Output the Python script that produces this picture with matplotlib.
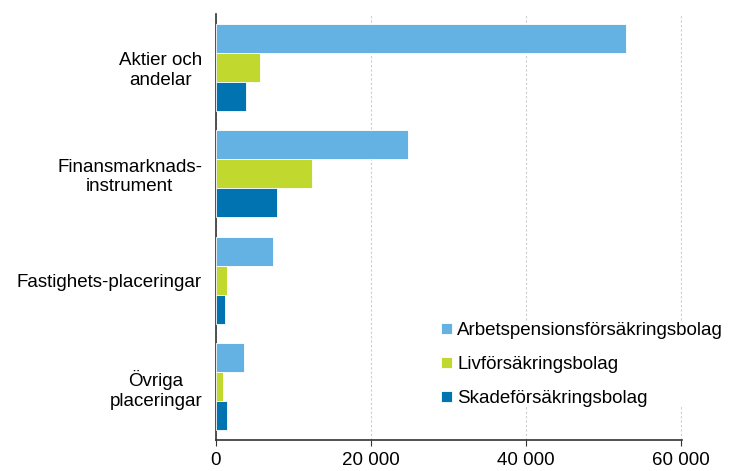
import numpy as np
import matplotlib.pyplot as plt
from matplotlib.ticker import FuncFormatter

plt.rcParams['font.family'] = ['Liberation Sans', 'DejaVu Sans']

categories = ['Aktier och\nandelar', 'Finansmarknads-\ninstrument',
              'Fastighets-placeringar', 'Övriga\nplaceringar']
series = ['Arbetspensionsförsäkringsbolag', 'Livförsäkringsbolag',
          'Skadeförsäkringsbolag']
arbets = [52900, 24800, 7400, 3600]
liv = [5700, 12400, 1400, 900]
skade = [3900, 7900, 1200, 1400]
colors = ['#64b1e4', '#c1d82f', '#0073b0']

fig = plt.figure(figsize=(7.37, 4.71), dpi=100)
ax = fig.add_axes([0.293, 0.066, 0.632, 0.904])

y = np.arange(len(categories))
h = 0.272
for k, (vals, name, c) in enumerate(zip([arbets, liv, skade], series, colors)):
    ax.barh(y + (k - 1) * h, vals, height=h, color=c, label=name,
            edgecolor='white', linewidth=0.6, zorder=3)

ax.set_ylim(3.5, -0.5)
ax.set_xlim(0, 60100)
ax.set_yticks(y)
ax.set_yticklabels(categories, fontsize=13.5, ha='right', multialignment='center')
ax.tick_params(axis='y', length=0, pad=10)
ax.set_xticks([0, 20000, 40000, 60000])
ax.xaxis.set_major_formatter(FuncFormatter(lambda v, p: f'{int(v):,}'.replace(',', ' ')))
ax.tick_params(axis='x', labelsize=13.5, length=4, color='#333333', pad=5)
ax.grid(axis='x', color='#cccccc', linestyle=(0, (2, 2)), linewidth=0.8, zorder=0)

for s in ['top', 'right']:
    ax.spines[s].set_visible(False)
for s in ['left', 'bottom']:
    ax.spines[s].set_color('#333333')
    ax.spines[s].set_linewidth(1.2)

leg = ax.legend(loc='lower left', bbox_to_anchor=(0.484, 0.077), frameon=True,
                fontsize=13.5, handlelength=0.55, handleheight=0.55,
                handletextpad=0.3, labelspacing=0.9, borderaxespad=0,
                borderpad=0, fancybox=False, framealpha=1)
leg.get_frame().set_edgecolor('none')
leg.get_frame().set_facecolor('white')

fig.savefig('out.png', dpi=100)
